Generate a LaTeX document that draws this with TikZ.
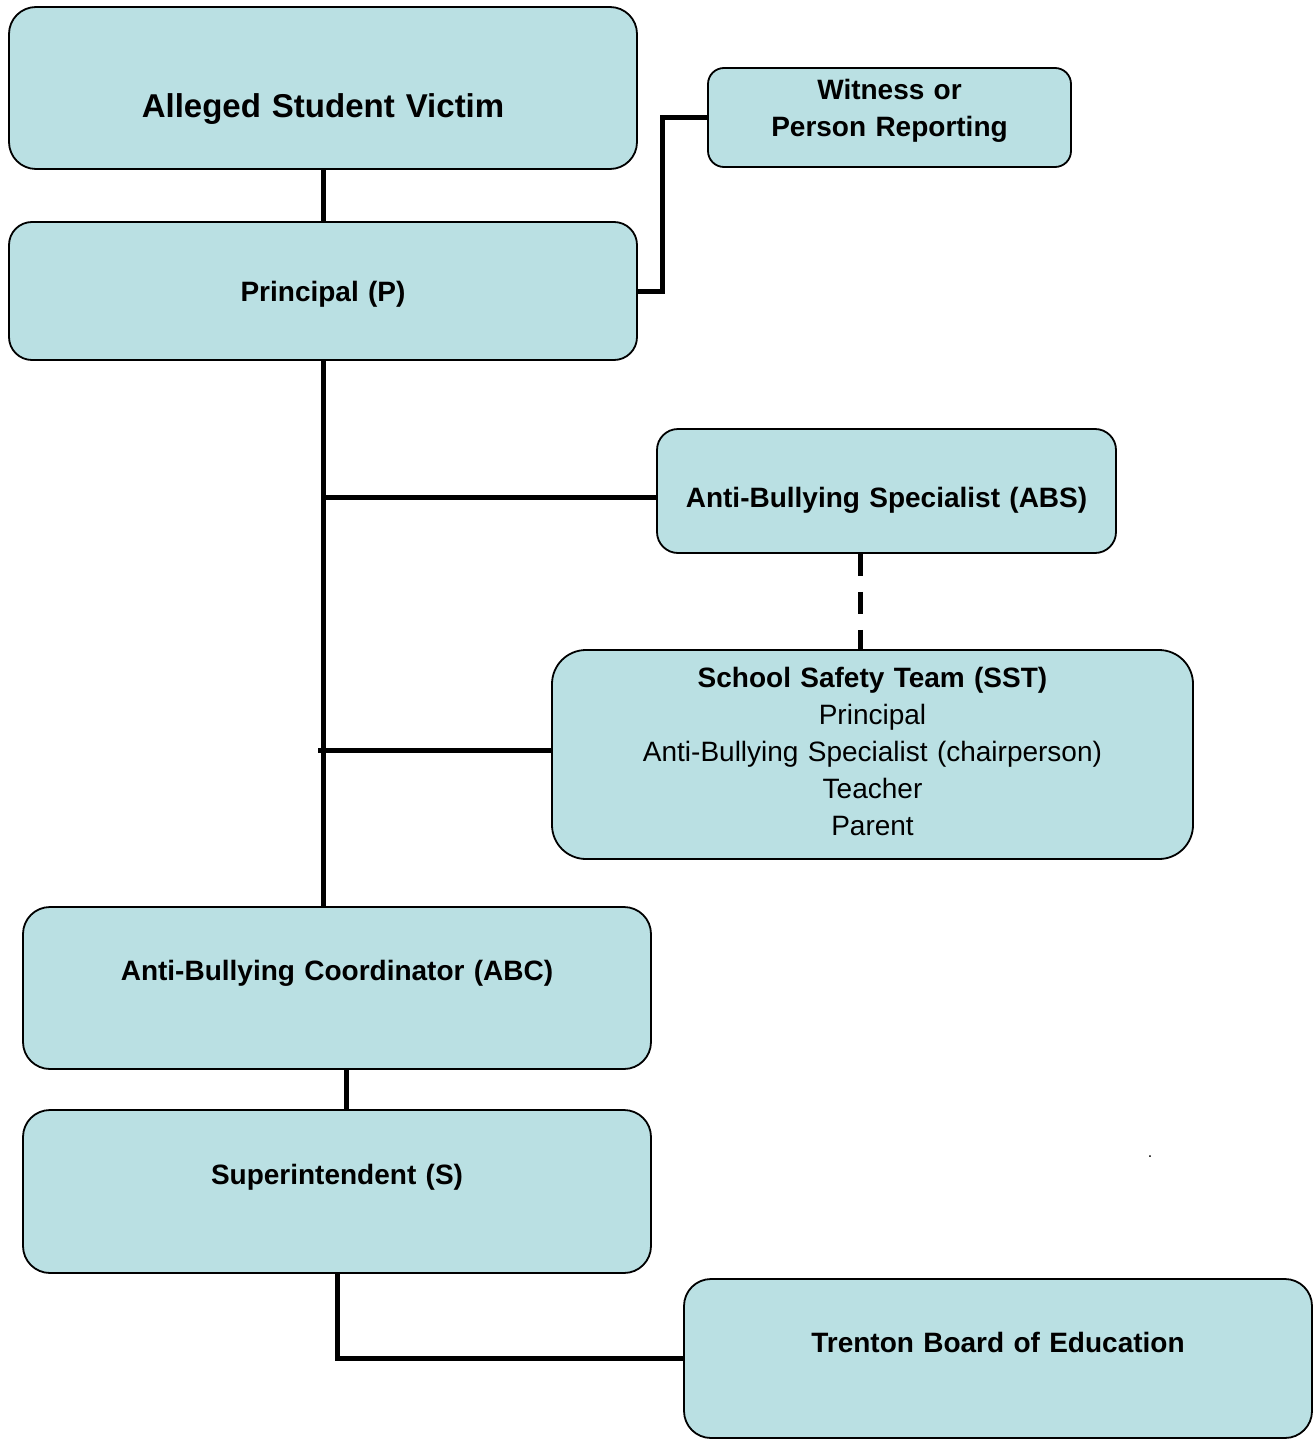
\documentclass[tikz,border=0pt]{standalone}
\usepackage{fontspec}
\setmainfont{Liberation Sans}
\definecolor{boxfill}{HTML}{BAE0E3}
\begin{document}
\begin{tikzpicture}[x=1pt,y=-1pt,
  box/.style={draw=black,line width=1.8pt,fill=boxfill,inner sep=0pt,anchor=base,align=center,
    font=\fontsize{28}{37}\selectfont},
  conn/.style={line width=5pt},
]
\useasboundingbox (0,0) rectangle (1315,1439);
% boxes: positioned at (centre x, baseline of first line)
\node[box,text width=628pt,text height=111pt,text depth=51pt,rounded corners=27pt,
  font=\fontsize{33}{40}\selectfont\bfseries] (victim) at (323,118) {Alleged Student Victim};
\node[box,text width=363pt,text height=32pt,text depth=67pt,rounded corners=16pt,font=\fontsize{28}{37}\selectfont\bfseries]
  (witness) at (889.5,100) {Witness or\\Person Reporting};
\node[box,text width=628pt,text height=79pt,text depth=59pt,rounded corners=23pt,font=\fontsize{28}{37}\selectfont\bfseries]
  (principal) at (323,301) {Principal (P)};
\node[box,text width=459pt,text height=78pt,text depth=46pt,rounded corners=21pt,font=\fontsize{28}{37}\selectfont\bfseries]
  (abs) at (886.5,507) {Anti-Bullying Specialist (ABS)};
\node[box,text width=641pt,text height=37pt,text depth=172pt,rounded corners=34pt]
  (sst) at (872.5,687) {\textbf{School Safety Team (SST)}\\Principal\\Anti-Bullying Specialist (chairperson)\\Teacher\\Parent};
\node[box,text width=628pt,text height=73pt,text depth=89pt,rounded corners=27pt,font=\fontsize{28}{37}\selectfont\bfseries]
  (abc) at (337,980) {Anti-Bullying Coordinator (ABC)};
\node[box,text width=628pt,text height=74pt,text depth=89pt,rounded corners=27pt,font=\fontsize{28}{37}\selectfont\bfseries]
  (super) at (337,1184) {Superintendent (S)};
\node[box,text width=628pt,text height=73pt,text depth=86pt,rounded corners=27pt,font=\fontsize{28}{37}\selectfont\bfseries]
  (trenton) at (998,1352) {Trenton Board of Education};
\node[inner sep=0pt,font=\fontsize{16}{18}\selectfont] (dot) at (1150,1157) {.};
% junction coordinates
\coordinate (j1) at (323,497);
\coordinate (j2) at (318,750);
\coordinate (dx) at (860,0);
\coordinate (ax) at (346,0);
% connectors
\draw[conn] (victim.south) -- (principal.north);
\draw[conn] (principal.east) -- ++(25,0) |- (witness.west);
\draw[conn] (principal.south) -- (principal.south |- abc.north);
\draw[conn] (j1) -- (j1 -| abs.west);
\draw[conn] (j2) -- (j2 -| sst.west);
\draw[conn,dash pattern=on 22pt off 16pt] (dx |- abs.south) -- (dx |- sst.north);
\draw[conn] (ax |- abc.south) -- (ax |- super.north);
\draw[conn] (super.south) |- (trenton.west);
\end{tikzpicture}
\end{document}
